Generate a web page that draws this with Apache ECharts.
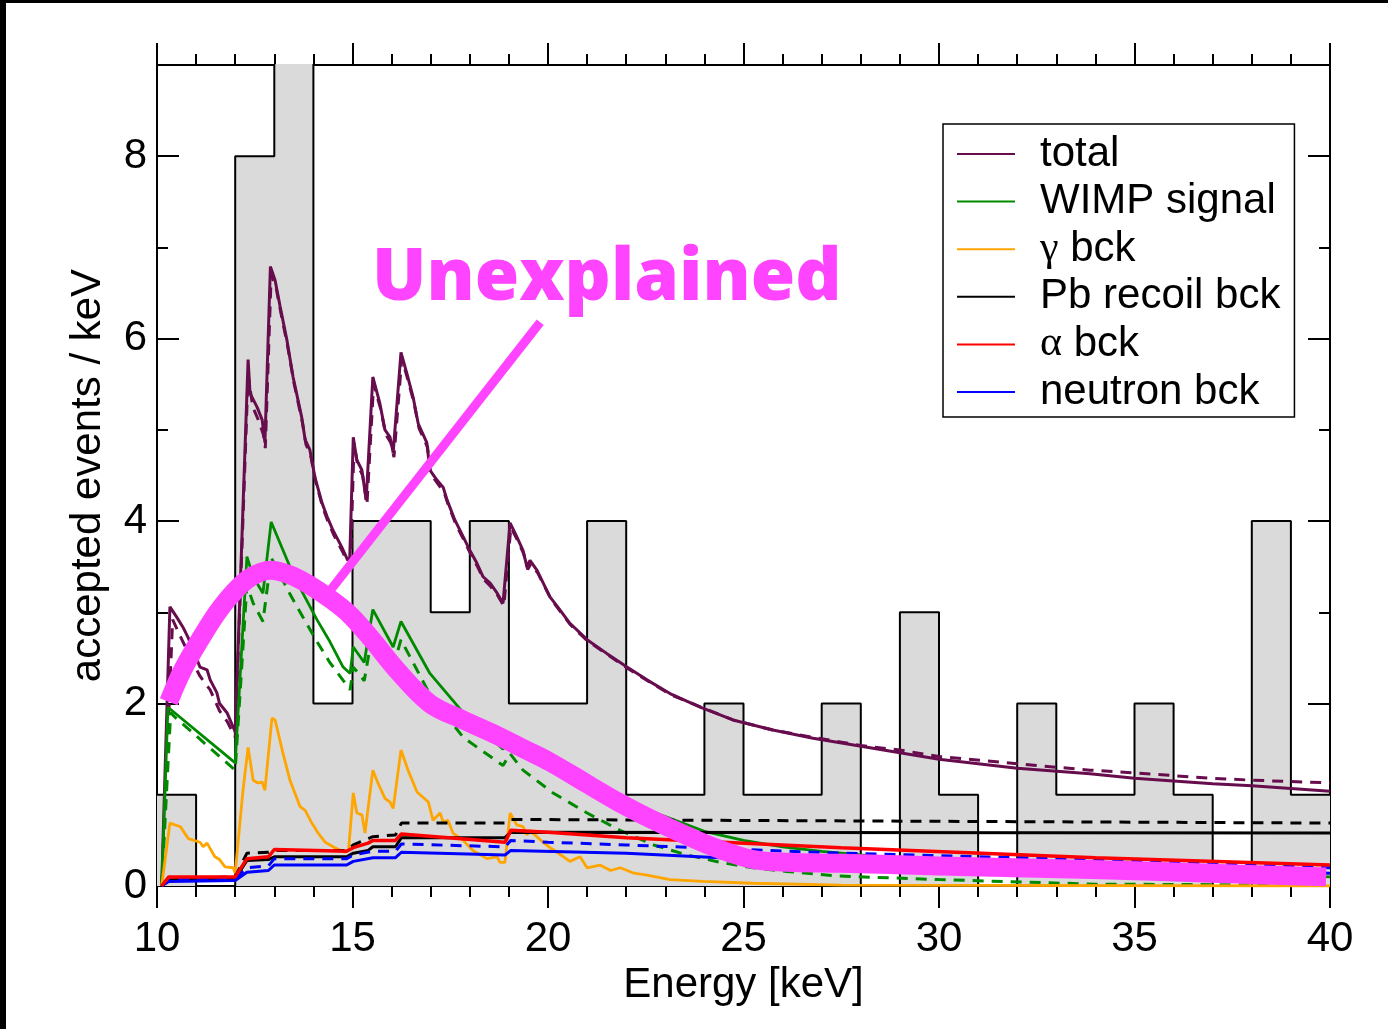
<!DOCTYPE html>
<html>
<head>
<meta charset="utf-8">
<script src="https://cdn.jsdelivr.net/npm/echarts@6/dist/echarts.min.js"></script>
<style>
html,body{margin:0;padding:0;background:#fff;}
#chart{position:absolute;left:0;top:0;width:1388px;height:1029px;}
.bt{position:absolute;left:0;top:0;width:1388px;height:3px;background:#000;}
.bl{position:absolute;left:0;top:0;width:6px;height:1029px;background:#000;}
</style>
</head>
<body>
<div id="chart"></div>
<div class="bt"></div><div class="bl"></div>
<script>
// ---- data ----
const binEdges = [10,11,12,13,14,15,16,17,18,19,20,21,22,23,24,25,26,27,28,29,30,31,32,33,34,35,36,37,38,39,40];
const binCounts = [1,0,8,10,2,4,4,3,4,2,2,4,1,1,2,1,1,2,0,3,1,0,2,1,1,2,1,0,4,1];

const legendNames = ['total','WIMP signal','γ bck','Pb recoil bck','α bck','neutron bck'];

const totalSolid = [[10.12,0],[10.33,3.06],[10.5,2.95],[10.66,2.84],[10.8,2.72],[10.92,2.59],[11.1,2.4],[11.28,2.37],[11.36,2.26],[11.53,2.12],[11.6,2.0],[11.79,1.9],[11.95,1.74],[12.0,1.69],
[12.33,5.77],[12.38,5.4],[12.56,5.25],[12.69,5.11],[12.76,4.86],[12.9,6.79],[13.02,6.64],[13.15,6.35],[13.32,5.99],[13.48,5.58],[13.7,5.14],[13.79,4.89],[13.91,4.78],[14.04,4.48],[14.22,4.2],[14.35,4.05],[14.5,3.9],[14.72,3.72],[14.88,3.57],[14.93,3.6],
[15.02,4.92],[15.11,4.67],[15.24,4.56],[15.35,4.23],[15.52,5.58],[15.7,5.29],[15.83,5.0],[15.96,4.92],[16.04,4.75],[16.24,5.85],[16.39,5.62],[16.55,5.36],[16.68,5.07],[16.9,4.86],[16.98,4.56],[17.16,4.45],[17.32,4.37],[17.42,4.23],[17.62,4.01],[17.83,3.83],[18.0,3.68],[18.18,3.54],[18.34,3.39],[18.52,3.32],[18.7,3.21],[18.85,3.1],
[19.03,3.98],[19.2,3.83],[19.36,3.68],[19.46,3.5],[19.54,3.57],[19.72,3.46],[20.05,3.17],[20.3,3.03],[20.56,2.88],[21.0,2.7],[21.5,2.55],[22.02,2.4],[22.53,2.26],[23.12,2.11],[23.89,1.96],[24.73,1.82],[25.75,1.71],[26.78,1.62],[27.47,1.57],[29,1.46],[30,1.39],[32,1.29],[33.86,1.23],[35,1.18],[37,1.12],[38,1.10],[40,1.04]];

const totalDashed = [[10.12,0],[10.4,2.92],[10.66,2.68],[10.92,2.45],[11.1,2.3],[11.36,2.15],[11.6,1.92],[11.8,1.8],[12.0,1.63],
[12.33,5.6],[12.45,5.25],[12.6,5.1],[12.72,4.95],[12.77,4.8],[12.92,6.7],[13.05,6.55],[13.17,6.28],[13.34,5.92],[13.5,5.52],[13.72,5.08],[13.81,4.84],[13.93,4.72],[14.06,4.43],[14.24,4.15],[14.37,4.0],[14.52,3.85],[14.74,3.67],[14.9,3.52],[14.95,3.55],
[15.04,4.85],[15.13,4.62],[15.26,4.5],[15.37,4.18],[15.54,5.5],[15.72,5.23],[15.85,4.95],[15.98,4.86],[16.06,4.7],[16.26,5.78],[16.41,5.56],[16.57,5.3],[16.7,5.02],[16.92,4.81],[17.0,4.52],[17.18,4.41],[17.34,4.32],[17.44,4.19],[17.64,3.97],[17.85,3.79],[18.02,3.64],[18.2,3.5],[18.36,3.36],[18.54,3.28],[18.72,3.18],[18.87,3.07],
[19.05,3.93],[19.22,3.79],[19.38,3.64],[19.48,3.47],[19.56,3.53],[19.74,3.43],[20.07,3.15],[20.56,2.87],[21.0,2.69],[22.02,2.39],[23.12,2.1],[24.73,1.82],[25.75,1.71],[26.78,1.63],[27.47,1.58],[28,1.54],[29,1.49],[30,1.42],[32,1.34],[33.86,1.27],[35,1.24],[37,1.18],[38,1.16],[40,1.13]];

const wimpSolid = [[10.12,0],[10.28,1.96],[12.0,1.35],[12.3,3.61],[12.46,3.39],[12.71,3.21],[12.92,3.99],[13.4,3.5],[13.73,3.21],[14.09,2.92],[14.42,2.68],[14.76,2.4],[14.94,2.33],[15.02,2.62],[15.3,2.45],[15.52,3.03],[16.04,2.62],[16.24,2.9],[16.98,2.33],[17.83,1.9],[18.85,1.5],[19.03,1.62],[20,1.35],[21,1.12],[22,0.92],[23,0.76],[24,0.6],[25,0.5],[26,0.43],[27,0.38],[28,0.34],[30,0.27],[32,0.22],[35,0.16],[40,0.1]];

const wimpDashed = [[10.12,0],[10.35,1.9],[10.46,1.85],[12.0,1.27],[12.3,3.3],[12.46,3.1],[12.71,2.9],[12.92,3.6],[13.4,3.2],[13.73,2.95],[14.09,2.68],[14.42,2.45],[14.94,2.15],[15.02,2.4],[15.3,2.25],[15.52,2.8],[16.04,2.4],[16.24,2.7],[16.98,2.1],[17.83,1.63],[18.85,1.32],[19.03,1.45],[19.36,1.27],[20.13,1.02],[21.0,0.8],[21.84,0.61],[22.7,0.45],[23.55,0.34],[24.4,0.26],[25.24,0.2],[26.1,0.16],[27.4,0.11],[30,0.07],[34,0.02],[40,0.01]];

const gammaBck = [[10.12,0],[10.33,0.69],[10.6,0.65],[10.66,0.61],[10.8,0.52],[11.1,0.48],[11.18,0.43],[11.28,0.47],[11.48,0.32],[11.6,0.29],[11.74,0.21],[11.95,0.2],[12.0,0.14],[12.12,0.69],[12.2,1.05],[12.33,1.52],[12.46,1.16],[12.58,1.13],[12.69,1.14],[12.76,1.05],[12.94,1.84],[13.02,1.82],[13.22,1.46],[13.4,1.16],[13.66,0.87],[13.79,0.83],[13.96,0.69],[14.12,0.58],[14.3,0.48],[14.55,0.42],[14.8,0.37],[14.9,0.4],[15.02,1.02],[15.11,0.8],[15.24,0.78],[15.32,0.58],[15.52,1.27],[15.65,1.13],[15.83,0.96],[15.96,0.92],[16.04,0.85],[16.24,1.49],[16.42,1.27],[16.65,1.03],[16.94,0.92],[17.06,0.72],[17.24,0.8],[17.32,0.7],[17.44,0.72],[17.57,0.58],[17.83,0.5],[18.08,0.39],[18.44,0.3],[18.7,0.32],[18.77,0.26],[18.9,0.26],[19.03,0.8],[19.2,0.67],[19.36,0.65],[19.46,0.56],[19.54,0.61],[19.87,0.48],[20.05,0.42],[20.13,0.4],[20.56,0.27],[20.82,0.32],[21.0,0.2],[21.33,0.23],[21.6,0.17],[21.85,0.2],[22.2,0.14],[22.53,0.12],[23.12,0.07],[23.96,0.05],[25.25,0.03],[27.5,0.01],[40,0.0]];

const pbSolid = [[10.12,0],[10.3,0.07],[12.0,0.08],[12.3,0.28],[12.85,0.29],[13.0,0.32],[14.85,0.32],[15.02,0.36],[15.4,0.39],[15.52,0.43],[16.1,0.43],[16.25,0.53],[18.9,0.53],[19.05,0.59],[40,0.58]];
const pbDashed = [[10.12,0],[10.3,0.08],[12.0,0.1],[12.3,0.36],[12.85,0.37],[13.0,0.39],[14.85,0.39],[15.02,0.45],[15.52,0.54],[16.1,0.56],[16.25,0.69],[18.9,0.69],[19.05,0.73],[40,0.69]];
const alphaBck = [[10.12,0],[10.3,0.1],[12.0,0.1],[12.3,0.3],[12.85,0.32],[13.0,0.4],[14.85,0.38],[15.02,0.42],[15.4,0.47],[15.52,0.5],[16.1,0.5],[16.25,0.57],[18.9,0.48],[19.05,0.61],[20,0.59],[22,0.53],[27.5,0.42],[34,0.31],[40,0.23]];
const neutronDashed = [[10.12,0],[10.3,0.07],[12.0,0.08],[12.3,0.2],[12.85,0.22],[13.0,0.3],[14.85,0.3],[15.02,0.34],[15.52,0.38],[16.1,0.38],[16.25,0.46],[18.9,0.43],[19.05,0.5],[20,0.48],[22,0.45],[25,0.4],[27.5,0.36],[34,0.29],[40,0.2]];
const neutronSolid = [[10.12,0],[10.3,0.05],[12.0,0.06],[12.3,0.15],[12.85,0.17],[13.0,0.23],[14.85,0.23],[15.02,0.27],[15.52,0.31],[16.1,0.31],[16.25,0.37],[18.9,0.34],[19.05,0.39],[22,0.36],[24.4,0.31],[27,0.27],[32,0.21],[40,0.14]];

const unexplained = [[10.3,2.02],[10.66,2.37],[11.1,2.7],[11.53,2.99],[11.94,3.21],[12.38,3.38],[12.9,3.46],[13.4,3.41],[13.9,3.3],[14.42,3.15],[14.94,2.97],[15.5,2.7],[16.13,2.37],[16.98,2.0],[17.83,1.82],[18.7,1.65],[19.4,1.5],[20.05,1.36],[21.0,1.12],[21.8,0.92],[22.7,0.72],[23.5,0.56],[24.4,0.4],[25.25,0.29],[26.1,0.26],[27.5,0.25],[30,0.22],[33.9,0.18],[37,0.14],[39.9,0.1]];
const annotationLine = [[19.8,6.18],[14.25,3.14]];
const annotationText = 'Unexplained';

// ---- chart ----
const FONT = '"Liberation Sans", Arial, Helvetica, sans-serif';
const histData = binEdges.slice(0, binCounts.length).map((e, i) => [e, binCounts[i]]);
histData.push([binEdges[binEdges.length - 1], binCounts[binCounts.length - 1]]);

function lineSeries(name, data, color, width, dashed) {
  return {
    name: name, type: 'line', data: data, symbol: 'none', clip: true,
    lineStyle: {color: color, width: width, type: dashed ? [11, 8] : 'solid'},
    itemStyle: {color: color}, z: 3
  };
}

const axisLineStyle = {color: '#000', width: 2};
function xAxisDef(pos, labels) {
  return {
    type: 'value', min: 10, max: 40, interval: 5, position: pos,
    axisLine: {show: true, onZero: false, lineStyle: axisLineStyle},
    axisTick: {show: true, inside: false, length: 22, lineStyle: axisLineStyle},
    minorTick: {show: true, splitNumber: 5, length: 11, lineStyle: axisLineStyle},
    splitLine: {show: false}, minorSplitLine: {show: false},
    axisLabel: {show: labels, fontSize: 42, color: '#000', fontFamily: FONT, margin: 32},
    name: labels ? 'Energy [keV]' : '', nameLocation: 'middle', nameGap: 78,
    nameTextStyle: {fontSize: 42, color: '#000', fontFamily: FONT}
  };
}
function yAxisDef(pos, interval, tickLen, showLine, labels) {
  return {
    type: 'value', min: 0, max: 9, interval: interval, position: pos,
    axisLine: {show: showLine, onZero: false, lineStyle: axisLineStyle},
    axisTick: {show: true, inside: true, length: tickLen, lineStyle: axisLineStyle},
    splitLine: {show: false},
    axisLabel: {show: labels, fontSize: 42, color: '#000', fontFamily: FONT, margin: 10,
      formatter: v => (v % 2 === 0 ? String(v) : '')},
    name: labels ? 'accepted events / keV' : '', nameLocation: 'middle', nameGap: 48,
    nameTextStyle: {fontSize: 42, color: '#000', fontFamily: FONT}
  };
}

const chart = echarts.init(document.getElementById('chart'), null, {renderer: 'canvas'});
chart.setOption({
  animation: false,
  backgroundColor: '#fff',
  grid: {left: 157, right: 58, top: 65, bottom: 143, containLabel: false},
  xAxis: [xAxisDef('bottom', true), xAxisDef('top', false)],
  yAxis: [yAxisDef('left', 2, 22, true, true), yAxisDef('left', 1, 11, false, false),
          yAxisDef('right', 2, 22, true, false), yAxisDef('right', 1, 11, false, false)],
  legend: {
    data: legendNames, orient: 'vertical', left: 943, top: 124,
    padding: [9, 14, 4, 14], itemGap: 5.6, itemWidth: 58, itemHeight: 2, icon: 'rect',
    backgroundColor: '#fff', borderColor: '#000', borderWidth: 1.5, borderRadius: 0,
    selectedMode: false,
    formatter: n => n.replace(/^([γα])/, '{g|$1}'),
    textStyle: {fontSize: 42, color: '#000', fontFamily: FONT, lineHeight: 42, padding: [0, 0, 0, 20],
      rich: {g: {fontSize: 42, fontFamily: '"Liberation Serif", "DejaVu Serif", serif', color: '#000'}}}
  },
  graphic: [{
    type: 'text', left: 372, top: 243, z: 100,
    style: {text: annotationText, fontSize: 72, fontWeight: 800, fontFamily: '"Open Sans", Lato, sans-serif', fill: '#ff44ff'}
  }],
  series: [
    {name: 'hist', type: 'line', step: 'end', data: histData, symbol: 'none', clip: true,
     lineStyle: {color: '#000', width: 2}, areaStyle: {color: '#dadada', opacity: 1}, z: 1},
    lineSeries('total dashed', totalDashed, '#670d4d', 3, true),
    lineSeries('total', totalSolid, '#670d4d', 3, false),
    lineSeries('WIMP dashed', wimpDashed, '#008a00', 3, true),
    lineSeries('WIMP signal', wimpSolid, '#008a00', 2.8, false),
    lineSeries('γ bck', gammaBck, '#ffa500', 2.8, false),
    lineSeries('Pb dashed', pbDashed, '#000000', 3, true),
    lineSeries('Pb recoil bck', pbSolid, '#000000', 3, false),
    lineSeries('neutron dashed', neutronDashed, '#0000ff', 3, true),
    lineSeries('neutron bck', neutronSolid, '#0000ff', 3, false),
    lineSeries('α bck', alphaBck, '#ff0000', 3.5, false),
    {name: 'unexplained', type: 'line', data: unexplained, symbol: 'none', clip: true, smooth: 0.35,
     lineStyle: {color: '#ff44ff', width: 19, cap: 'butt', join: 'round'}, z: 5},
    {name: 'arrow', type: 'line', data: annotationLine, symbol: 'none', clip: false,
     lineStyle: {color: '#ff44ff', width: 9, cap: 'butt'}, z: 5}
  ]
});
</script>
</body>
</html>
